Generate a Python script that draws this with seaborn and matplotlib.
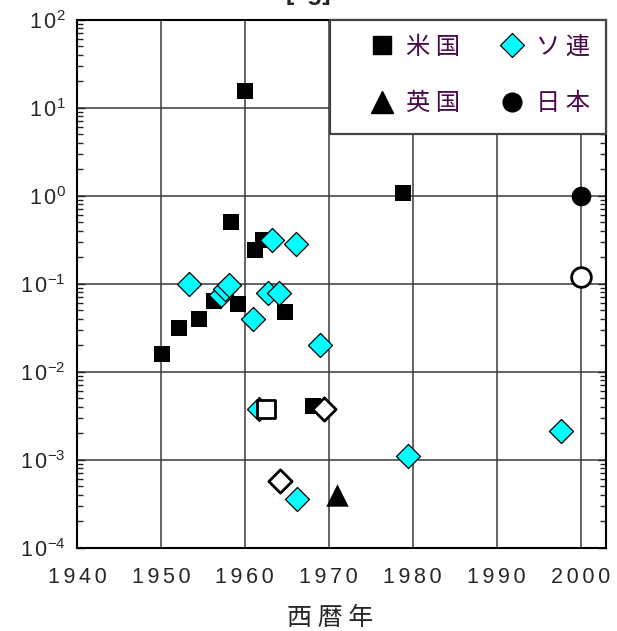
import matplotlib
matplotlib.use("Agg")
import matplotlib.pyplot as plt
import seaborn as sns
import pandas as pd
from matplotlib.lines import Line2D
from matplotlib.patches import Rectangle
from matplotlib.ticker import LogLocator, FuncFormatter, NullFormatter
import math

# ---- data ----
us_year = [1950.1, 1952.1, 1954.5, 1956.3, 1958.4, 1959.2, 1960.0, 1961.2, 1962.2, 1964.8, 1968.1, 1978.9]
us_val = [0.016, 0.031, 0.040, 0.063, 0.50, 0.058, 15.5, 0.24, 0.31, 0.0475, 0.0041, 1.08]
us_open_year = [1962.5]
us_open_val = [0.0038]

su_year = [1953.3, 1957.1, 1957.6, 1958.1, 1961.0, 1962.7, 1963.2, 1964.1, 1966.1, 1969.0, 1961.7, 1966.2, 1979.4, 1997.7]
su_val = [0.10, 0.075, 0.086, 0.096, 0.040, 0.079, 0.31, 0.079, 0.28, 0.020, 0.0038, 0.00036, 0.0011, 0.0021]
su_open_year = [1969.4, 1964.2]
su_open_val = [0.0038, 0.00058]

uk_year = [1971.0]
uk_val = [0.0004]

jp_year = [2000.0]
jp_val = [1.0]
jp_open_year = [2000.0]
jp_open_val = [0.12]

legend_labels = ["米国", "英国", "ソ連", "日本"]
x_ticks = [1940, 1950, 1960, 1970, 1980, 1990, 2000]
x_label = "西暦年"
title_text = "[kg]"

sns.set_style("ticks")
plt.rcParams["font.family"] = ["Liberation Sans", "Noto Sans CJK JP", "DejaVu Sans"]
plt.rcParams["mathtext.fontset"] = "custom"
plt.rcParams["mathtext.rm"] = "Liberation Sans"
plt.rcParams["mathtext.it"] = "Liberation Sans"
plt.rcParams["mathtext.default"] = "regular"

fig = plt.figure(figsize=(6.17, 6.31), dpi=100)
ax = fig.add_axes([0.1248, 0.132, 0.857, 0.837])

cyan = "#00FFFF"
purple = "#4A0A4A"

def df(x, y):
    return pd.DataFrame({"year": x, "val": y})

sns.scatterplot(data=df(us_year, us_val), x="year", y="val", marker="s", s=135,
                color="black", edgecolor="black", linewidth=0, ax=ax, zorder=3)
sns.scatterplot(data=df(su_year, su_val), x="year", y="val", marker="D", s=150,
                color=cyan, edgecolor="black", linewidth=0.9, ax=ax, zorder=4)
sns.scatterplot(data=df(us_open_year, us_open_val), x="year", y="val", marker="s", s=150,
                color="white", edgecolor="black", linewidth=2.0, ax=ax, zorder=5)
sns.scatterplot(data=df(su_open_year, su_open_val), x="year", y="val", marker="D", s=140,
                color="white", edgecolor="black", linewidth=2.0, ax=ax, zorder=5)
sns.scatterplot(data=df(uk_year, uk_val), x="year", y="val", marker="^", s=260,
                color="black", edgecolor="black", linewidth=0, ax=ax, zorder=5)
sns.scatterplot(data=df(jp_year, jp_val), x="year", y="val", marker="o", s=200,
                color="black", edgecolor="black", linewidth=0, ax=ax, zorder=5)
sns.scatterplot(data=df(jp_open_year, jp_open_val), x="year", y="val", marker="o", s=200,
                color="white", edgecolor="black", linewidth=2.0, ax=ax, zorder=5)

ax.set_yscale("log")
ax.set_ylim(1e-4, 1e2)
ax.set_xlim(1940, 2003)
ax.set_xticks(x_ticks)
ax.set_xticklabels(["\u2006".join(str(t)) for t in x_ticks])
ax.yaxis.set_major_locator(LogLocator(base=10, numticks=10))
ax.yaxis.set_major_formatter(FuncFormatter(
    lambda v, p: r"$\mathregular{1\,0^{%d}}$" % round(math.log10(v))))
ax.yaxis.set_minor_locator(LogLocator(base=10, subs=range(2, 10), numticks=20))
ax.yaxis.set_minor_formatter(NullFormatter())

ax.grid(True, which="major", color="#3a3a3a", linewidth=1.1)
ax.set_axisbelow(True)
ax.tick_params(axis="y", which="major", direction="in", length=6, width=1, right=True, labelsize=15.5, pad=8)
ax.tick_params(axis="y", which="minor", direction="in", length=4, width=1, right=True)
ax.tick_params(axis="x", which="major", direction="in", length=0, labelsize=15.5, pad=14)
for sp in ax.spines.values():
    sp.set_linewidth(1.5)
    sp.set_color("black")

ax.set_xlabel(" ".join(x_label), fontsize=18, family=["Noto Sans CJK JP"])
ax.xaxis.set_label_coords(0.478, -0.108)
ax.set_ylabel("")

# legend frame (white box in the upper right corner)
frame = Rectangle((0.478, 0.783), 0.522, 0.217, transform=ax.transAxes,
                  facecolor="white", edgecolor="#444444", linewidth=1.6, zorder=9, clip_on=False)
ax.add_patch(frame)

handles = [
    Line2D([], [], marker="s", color="black", linestyle="none", markersize=13),
    Line2D([], [], marker="^", color="black", linestyle="none", markersize=16),
    Line2D([], [], marker="D", markerfacecolor=cyan, markeredgecolor="black", markeredgewidth=0.9,
           linestyle="none", markersize=12),
    Line2D([], [], marker="o", color="black", linestyle="none", markersize=13.5),
]
leg = ax.legend(handles, [" ".join(l) for l in legend_labels], ncol=2, loc="center",
                bbox_to_anchor=(0.762, 0.895), frameon=False,
                prop={"family": ["Noto Sans CJK JP"], "size": 17.5},
                handlelength=1.0, handletextpad=0.5, columnspacing=1.6,
                labelspacing=1.25, borderpad=0.0)
leg.set_zorder(10)
for t in leg.get_texts():
    t.set_color(purple)

fig.text(0.5, 1.0, title_text, ha="center", va="baseline", fontsize=18, fontweight="bold")

fig.savefig("out.png", dpi=100)
